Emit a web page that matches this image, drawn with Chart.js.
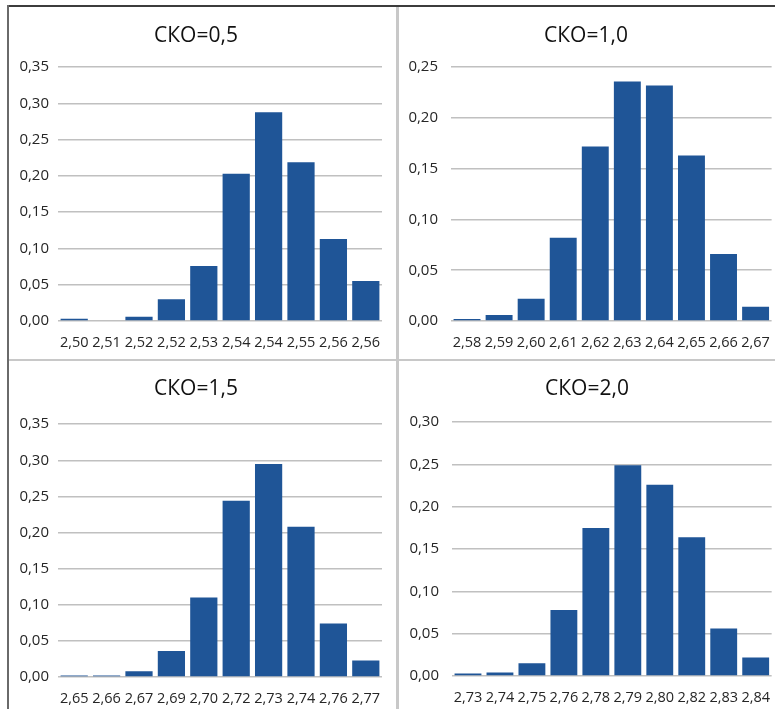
<!DOCTYPE html>
<html>
<head>
<meta charset="UTF-8">
<script src="https://cdn.jsdelivr.net/npm/chart.js"></script>
<style>
  html, body { margin: 0; padding: 0; background: #fff; }
  body { width: 775px; height: 709px; position: relative; overflow: hidden; }
  .line { position: absolute; }
  canvas { position: absolute; }
</style>
</head>
<body>
  <div class="line" style="left:8px;top:5px;width:767px;height:2px;background:#3c3c3c;"></div>
  <div class="line" style="left:7px;top:5px;width:2px;height:704px;background:#6a6a6a;"></div>
  <div class="line" style="left:396px;top:7px;width:3px;height:702px;background:#c8c8c8;"></div>
  <div class="line" style="left:9px;top:359px;width:766px;height:2px;background:#c8c8c8;"></div>

  <canvas id="c1" width="386" height="351" style="left:10px;top:8px;"></canvas>
  <canvas id="c2" width="376" height="351" style="left:399px;top:8px;"></canvas>
  <canvas id="c3" width="386" height="347" style="left:10px;top:362px;"></canvas>
  <canvas id="c4" width="376" height="347" style="left:399px;top:362px;"></canvas>

<script>
  // СКО = 0,5
  const labels05 = ['2,50', '2,51', '2,52', '2,52', '2,53', '2,54', '2,54', '2,55', '2,56', '2,56'];
  const values05 = [0.003, 0.000, 0.006, 0.030, 0.076, 0.203, 0.288, 0.219, 0.113, 0.055];

  // СКО = 1,0
  const labels10 = ['2,58', '2,59', '2,60', '2,61', '2,62', '2,63', '2,64', '2,65', '2,66', '2,67'];
  const values10 = [0.002, 0.006, 0.022, 0.082, 0.172, 0.236, 0.232, 0.163, 0.066, 0.014];

  // СКО = 1,5
  const labels15 = ['2,65', '2,66', '2,67', '2,69', '2,70', '2,72', '2,73', '2,74', '2,76', '2,77'];
  const values15 = [0.002, 0.002, 0.008, 0.036, 0.110, 0.244, 0.295, 0.208, 0.074, 0.023];

  // СКО = 2,0
  const labels20 = ['2,73', '2,74', '2,75', '2,76', '2,78', '2,79', '2,80', '2,82', '2,83', '2,84'];
  const values20 = [0.003, 0.004, 0.015, 0.078, 0.175, 0.249, 0.226, 0.164, 0.056, 0.022];

  const yMax05 = 0.35, yMax10 = 0.25, yMax15 = 0.35, yMax20 = 0.30;

  Chart.defaults.font.family = "'Open Sans', sans-serif";
  Chart.defaults.color = '#262626';

  function fmt(v) {
    return v.toFixed(2).replace('.', ',');
  }

  function makeChart(id, labels, values, title, yMax, box) {
    const ctx = document.getElementById(id).getContext('2d');
    return new Chart(ctx, {
      type: 'bar',
      data: {
        labels: labels,
        datasets: [{
          data: values,
          backgroundColor: '#1F5597',
          borderWidth: 0,
          barPercentage: 0.84,
          categoryPercentage: 1.0
        }]
      },
      options: {
        responsive: false,
        animation: false,
        layout: { padding: { left: 0, right: box.padRight, top: 0, bottom: 0 } },
        plugins: {
          legend: { display: false },
          tooltip: { enabled: false },
          title: {
            display: true,
            text: title,
            color: '#111111',
            font: { size: 21, weight: 'normal' },
            padding: { top: box.titleY - 12, bottom: box.top - box.titleY - 13 }
          }
        },
        scales: {
          x: {
            grid: { display: false },
            border: { display: false },
            ticks: {
              autoSkip: false,
              maxRotation: 0,
              minRotation: 0,
              padding: box.xPad,
              font: { size: 14.5 }
            },
            afterFit: function(scale) { scale.height = box.xHeight; }
          },
          y: {
            min: 0,
            max: yMax,
            border: { display: false },
            grid: { color: '#c0c0c0', lineWidth: 1.5, drawTicks: false },
            ticks: {
              stepSize: 0.05,
              padding: box.yPad,
              font: { size: 15 },
              callback: function(v) { return fmt(v); }
            },
            afterFit: function(scale) { scale.width = box.yWidth; }
          }
        }
      }
    });
  }

  makeChart('c1', labels05, values05, 'СКО=0,5', yMax05,
    { yWidth: 48, padRight: 14, top: 59, titleY: 27, xHeight: 38, xPad: 5, yPad: 9 });
  makeChart('c2', labels10, values10, 'СКО=1,0', yMax10,
    { yWidth: 52, padRight: 2, top: 59, titleY: 27, xHeight: 38, xPad: 5, yPad: 13 });
  makeChart('c3', labels15, values15, 'СКО=1,5', yMax15,
    { yWidth: 48, padRight: 14, top: 62, titleY: 26, xHeight: 32, xPad: 5, yPad: 9 });
  makeChart('c4', labels20, values20, 'СКО=2,0', yMax20,
    { yWidth: 53, padRight: 0, top: 60, titleY: 26, xHeight: 33, xPad: 5, yPad: 13 });
</script>
</body>
</html>
